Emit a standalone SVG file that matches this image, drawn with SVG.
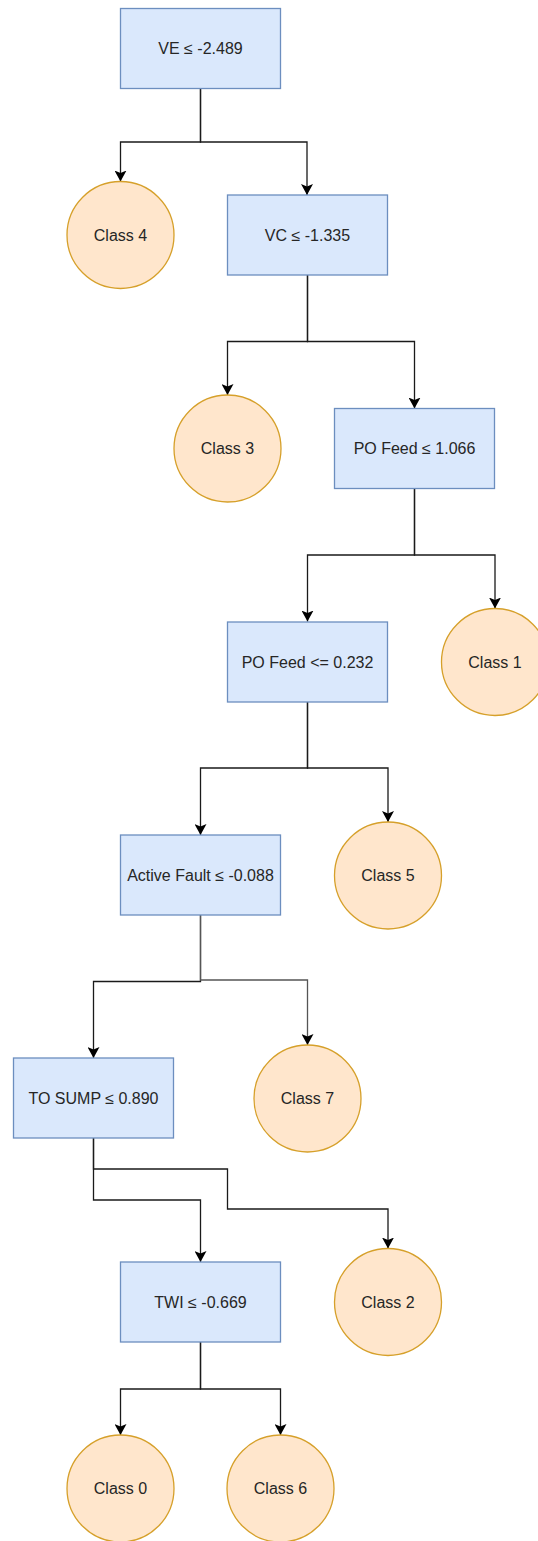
<svg xmlns="http://www.w3.org/2000/svg" width="538" height="1541" viewBox="0 0 538 1541">
<style>
.box{fill:#dae8fc;stroke:#6c8ebf;stroke-width:1.3}
.leaf{fill:#ffe6cc;stroke:#d6a02a;stroke-width:1.3}
.t{font-family:"Liberation Sans",Arial,sans-serif;font-size:16px;fill:#262626;text-anchor:middle}
.e{fill:none;stroke:#1a1a1a;stroke-width:1.3}
</style>
<defs>
<marker id="arr" markerUnits="userSpaceOnUse" markerWidth="11" markerHeight="12" viewBox="0 0 11 12" refX="11" refY="6" orient="auto">
<path d="M0,0 L11,6 L0,12 L2.5,6 z" fill="#000"/>
</marker>
</defs>
<rect width="538" height="1541" fill="#fff"/>
<g id="connectors">
<path class="e" marker-end="url(#arr)" d="M200.5,89 V142 H120.5 V181.5"/>
<path class="e" marker-end="url(#arr)" d="M200.5,89 V142 H307 V195"/>
<path class="e" marker-end="url(#arr)" d="M307.5,275 V341.5 H227.5 V395"/>
<path class="e" marker-end="url(#arr)" d="M307.5,275 V341.5 H414.5 V408.5"/>
<path class="e" marker-end="url(#arr)" d="M414.5,488.5 V555 H307.5 V621.5"/>
<path class="e" marker-end="url(#arr)" d="M414.5,488.5 V555 H495 V608.5"/>
<path class="e" marker-end="url(#arr)" d="M307.5,702 V768 H200.5 V835"/>
<path class="e" marker-end="url(#arr)" d="M307.5,702 V768 H388 V822"/>
<path class="e" marker-end="url(#arr)" d="M200.5,915 V981.5 H93.5 V1058"/>
<path class="e" marker-end="url(#arr)" d="M200.5,915 V980 H307.5 V1045" style="stroke:#555"/>
<path class="e" marker-end="url(#arr)" d="M93.5,1138 V1200 H200.5 V1262"/>
<path class="e" marker-end="url(#arr)" d="M93.5,1138 V1169 H227.5 V1209 H388 V1248.5"/>
<path class="e" marker-end="url(#arr)" d="M200.5,1342 V1389 H120.5 V1435"/>
<path class="e" marker-end="url(#arr)" d="M200.5,1342 V1389 H280.5 V1435"/>
</g>
<g id="n_ve"><rect class="box" x="120.5" y="8.5" width="160" height="80"/><text class="t" x="200.5" y="54">VE ≤ -2.489</text></g>
<g id="n_class4"><circle class="leaf" cx="120.5" cy="235" r="53.5"/><text class="t" x="120.5" y="240.5">Class 4</text></g>
<g id="n_vc"><rect class="box" x="227.5" y="195" width="160" height="80"/><text class="t" x="307.5" y="240.5">VC ≤ -1.335</text></g>
<g id="n_class3"><circle class="leaf" cx="227.5" cy="448.5" r="53.5"/><text class="t" x="227.5" y="454">Class 3</text></g>
<g id="n_po1"><rect class="box" x="334.5" y="408.5" width="160" height="80"/><text class="t" x="414.5" y="454">PO Feed ≤ 1.066</text></g>
<g id="n_po2"><rect class="box" x="227.5" y="622" width="160" height="80"/><text class="t" x="307.5" y="667.5">PO Feed &lt;= 0.232</text></g>
<g id="n_class1"><circle class="leaf" cx="495" cy="662" r="53.5"/><text class="t" x="495" y="667.5">Class 1</text></g>
<g id="n_af"><rect class="box" x="120.5" y="835" width="160" height="80"/><text class="t" x="200.5" y="880.5">Active Fault ≤ -0.088</text></g>
<g id="n_class5"><circle class="leaf" cx="388" cy="875.5" r="53.5"/><text class="t" x="388" y="881">Class 5</text></g>
<g id="n_sump"><rect class="box" x="13.5" y="1058" width="160" height="80"/><text class="t" x="93.5" y="1103.5">TO SUMP ≤ 0.890</text></g>
<g id="n_class7"><circle class="leaf" cx="307.5" cy="1098.5" r="53.5"/><text class="t" x="307.5" y="1104">Class 7</text></g>
<g id="n_twi"><rect class="box" x="120.5" y="1262" width="160" height="80"/><text class="t" x="200.5" y="1307.5">TWI ≤ -0.669</text></g>
<g id="n_class2"><circle class="leaf" cx="388" cy="1302" r="53.5"/><text class="t" x="388" y="1307.5">Class 2</text></g>
<g id="n_class0"><circle class="leaf" cx="120.5" cy="1488.5" r="53.5"/><text class="t" x="120.5" y="1494">Class 0</text></g>
<g id="n_class6"><circle class="leaf" cx="280.5" cy="1488.5" r="53.5"/><text class="t" x="280.5" y="1494">Class 6</text></g>
</svg>
